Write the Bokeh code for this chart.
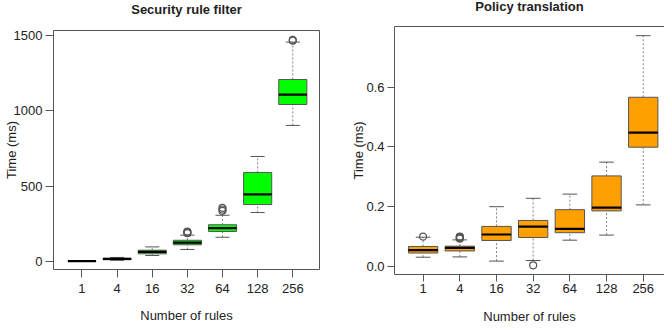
from bokeh.plotting import figure
from bokeh.models import FixedTicker, LinearAxis, Range1d, PrintfTickFormatter
from bokeh.embed import file_html
from bokeh.resources import INLINE

rules = ["1", "4", "16", "32", "64", "128", "256"]

# Security rule filter (ms)
sec_q1 = [1, 12, 51, 111, 199, 378, 1042]
sec_med = [2, 17, 64, 126, 221, 445, 1108]
sec_q3 = [3, 21, 75, 141, 244, 591, 1208]
sec_lo = [0.5, 8, 40, 80, 161, 325, 903]
sec_hi = [4, 27, 97, 175, 307, 697, 1456]
sec_out = [[], [], [], [188, 193, 199], [336, 345, 356], [], [1465, 1471]]

# Policy translation (ms)
pol_q1 = [0.045, 0.052, 0.087, 0.097, 0.113, 0.186, 0.399]
pol_med = [0.055, 0.062, 0.107, 0.133, 0.126, 0.197, 0.448]
pol_q3 = [0.067, 0.068, 0.134, 0.154, 0.190, 0.303, 0.566]
pol_lo = [0.031, 0.032, 0.018, 0.020, 0.088, 0.105, 0.206]
pol_hi = [0.098, 0.089, 0.200, 0.228, 0.242, 0.349, 0.772]
pol_out = [[0.100], [0.093, 0.096, 0.098, 0.100], [], [0.004], [], [], []]

FONT = "Liberation Sans"
TXT = "#222222"
EDGE = "#555555"
SHIFT = 10  # extra canvas above the page top, so the titles can sit high


def panel(title, q1, med, q3, lo, hi, out, color, xr, yr, yticks, fmt,
          width, mb_left, mb_right, mb_top, mb_bottom, tick_out, xstand,
          xlab_stand, ylab_stand, outline, title_stand):
    p = figure(width=width, height=329 + SHIFT, x_range=Range1d(*xr), y_range=Range1d(*yr),
               output_backend="svg", toolbar_location=None,
               min_border_left=mb_left, min_border_right=mb_right,
               min_border_top=mb_top + SHIFT, min_border_bottom=mb_bottom)
    p.grid.visible = False
    p.background_fill_color = "white"
    p.border_fill_color = "white"
    xs = list(range(1, len(q1) + 1))

    # whiskers
    p.segment(x0=xs, y0=q3, x1=xs, y1=hi, line_color="#808080", line_dash="2 2", line_width=1)
    p.segment(x0=xs, y0=lo, x1=xs, y1=q1, line_color="#808080", line_dash="2 2", line_width=1)
    # caps
    p.segment(x0=[x - 0.2 for x in xs], y0=hi, x1=[x + 0.2 for x in xs], y1=hi, line_color=EDGE, line_width=1)
    p.segment(x0=[x - 0.2 for x in xs], y0=lo, x1=[x + 0.2 for x in xs], y1=lo, line_color=EDGE, line_width=1)
    # boxes
    p.vbar(x=xs, width=0.8, bottom=q1, top=q3, fill_color=color, line_color=EDGE, line_width=1)
    # medians
    p.segment(x0=[x - 0.4 for x in xs], y0=med, x1=[x + 0.4 for x in xs], y1=med, line_color="black", line_width=2.2)
    # outliers
    ox, oy = [], []
    for i, vals in enumerate(out):
        for v in vals:
            ox.append(xs[i])
            oy.append(v)
    p.scatter(x=ox, y=oy, marker="circle", size=7, fill_color=None, line_color=EDGE, line_width=1.2)

    # axes
    xa = p.xaxis[0]
    xa.ticker = FixedTicker(ticks=xs)
    xa.major_label_overrides = {x: rules[i] for i, x in enumerate(xs)}
    xa.axis_label = "Number of rules"
    xa.axis_label_standoff = xlab_stand
    xa.major_label_standoff = xstand
    ya = p.yaxis[0]
    ya.ticker = FixedTicker(ticks=yticks)
    if fmt:
        ya.formatter = PrintfTickFormatter(format=fmt)
    ya.major_label_standoff = 3
    ya.axis_label = "Time (ms)"
    ya.axis_label_standoff = ylab_stand
    for ax in (xa, ya):
        ax.major_tick_out = tick_out
        ax.major_tick_in = 0
        ax.minor_tick_line_color = None
        ax.major_tick_line_color = EDGE
        ax.major_label_text_font = FONT
        ax.major_label_text_font_size = "13px"
        ax.major_label_text_color = TXT
        ax.axis_label_text_font = FONT
        ax.axis_label_text_font_size = "13px"
        ax.axis_label_text_font_style = "normal"
        ax.axis_label_text_color = TXT
    ya.major_label_orientation = "horizontal"

    # top axis carries the panel title (and the top border where needed)
    top = LinearAxis(ticker=FixedTicker(ticks=[]), major_tick_out=0, major_tick_in=0,
                     minor_tick_line_color=None, major_label_standoff=0,
                     axis_label=title, axis_label_standoff=title_stand,
                     axis_label_text_font=FONT, axis_label_text_font_size="13px",
                     axis_label_text_font_style="bold", axis_label_text_color=TXT)
    if outline:
        p.outline_line_color = EDGE
        xa.axis_line_color = None
        ya.axis_line_color = None
        top.axis_line_color = None
    else:
        p.outline_line_color = None
        xa.axis_line_color = EDGE
        ya.axis_line_color = EDGE
        top.axis_line_color = EDGE
    p.add_layout(top, "above")
    return p


p1 = panel("Security rule filter", sec_q1, sec_med, sec_q3, sec_lo, sec_hi, sec_out,
           "#00FF00", (0.19, 7.76), (-53, 1533), [0, 500, 1000, 1500], None,
           332, 48, 13, 30, 60, 8, 6, 12, -8, True, 14)
p2 = panel("Policy translation", pol_q1, pol_med, pol_q3, pol_lo, pol_hi, pol_out,
           "#FFA000", (0.22, 7.58), (-0.0268, 0.8027), [0, 0.2, 0.4, 0.6], "%.1f",
           332, 62, 0, 26, 55, 7, 2, 13, -3, False, 13)

p1.styles = {"position": "absolute", "left": "0px", "top": f"-{SHIFT}px"}
p2.styles = {"position": "absolute", "left": "332px", "top": f"-{SHIFT}px"}

open("out.html", "w").write(file_html([p1, p2], INLINE))
